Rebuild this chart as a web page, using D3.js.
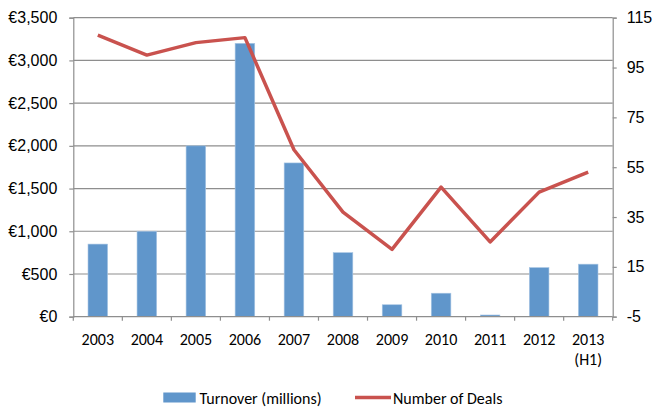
<!DOCTYPE html>
<html>
<head>
<meta charset="utf-8">
<script src="https://cdn.jsdelivr.net/npm/d3@7"></script>
<style>
  html, body { margin: 0; padding: 0; background: #fff; }
  svg { display: block; font-family: Carlito, Lato, "Open Sans", sans-serif; }
  text { fill: #000; }
</style>
</head>
<body>
<svg id="chart" width="654" height="408"></svg>
<script>
// Yearly market data
const categories = ["2003", "2004", "2005", "2006", "2007", "2008", "2009", "2010", "2011", "2012", "2013\n(H1)"];
const turnover = [850, 1000, 2000, 3200, 1800, 750, 140, 275, 20, 575, 615];
const deals = [108, 100, 105, 107, 62, 37, 22, 47, 25, 45, 53];
const leftTicks = [0, 500, 1000, 1500, 2000, 2500, 3000, 3500];
const rightTicks = [-5, 15, 35, 55, 75, 95, 115];
const seriesNames = ["Turnover (millions)", "Number of Deals"];

const W = 654, H = 408;
const margin = { top: 17.7, right: 41.3, bottom: 91.3, left: 73.3 };
const iw = W - margin.left - margin.right;
const ih = H - margin.top - margin.bottom;

const barColor = "#6096CB";
const lineColor = "#C9524E";
const gridColor = "#8E8E8E";
const fontSize = 16;

const svg = d3.select("#chart");
const g = svg.append("g").attr("transform", `translate(${margin.left},${margin.top})`);

const x = d3.scaleBand().domain(categories).range([0, iw]).padding(0);
const yL = d3.scaleLinear().domain([0, 3500]).range([ih, 0]);
const yR = d3.scaleLinear().domain([-5, 115]).range([ih, 0]);

// horizontal gridlines from the left axis
g.append("g").selectAll("line").data(leftTicks.filter(d => d > 0)).join("line")
  .attr("x1", 0).attr("x2", iw)
  .attr("y1", d => yL(d)).attr("y2", d => yL(d))
  .attr("stroke", gridColor).attr("stroke-width", 1.2);

// left axis
const leftAxis = g.append("g")
  .call(d3.axisLeft(yL).tickValues(leftTicks).tickSize(4).tickPadding(12)
    .tickFormat(d => "€" + d3.format(",")(d)));
leftAxis.select(".domain").attr("stroke", gridColor).attr("stroke-width", 1.2);
leftAxis.selectAll(".tick line").attr("stroke", gridColor).attr("stroke-width", 1.2);
leftAxis.selectAll("text").attr("font-size", fontSize).attr("fill", "#000");

// right axis
const rightAxis = g.append("g").attr("transform", `translate(${iw},0)`)
  .call(d3.axisRight(yR).tickValues(rightTicks).tickSize(4).tickPadding(10)
    .tickFormat(d => String(d)));
rightAxis.select(".domain").attr("stroke", gridColor).attr("stroke-width", 1.2);
rightAxis.selectAll(".tick line").attr("stroke", gridColor).attr("stroke-width", 1.2);
rightAxis.selectAll("text").attr("font-size", fontSize).attr("fill", "#000");

// bars
const barW = x.bandwidth() * 0.4;
g.append("g").selectAll("rect").data(categories).join("rect")
  .attr("x", (d) => x(d) + (x.bandwidth() - barW) / 2)
  .attr("width", barW)
  .attr("y", (d, i) => yL(turnover[i]))
  .attr("height", (d, i) => ih - yL(turnover[i]))
  .attr("fill", barColor)
  .attr("stroke", "#A9C6E4").attr("stroke-width", 0.6);

// bottom axis with ticks at category boundaries
const bottom = g.append("g").attr("transform", `translate(0,${ih})`);
bottom.append("line").attr("x1", 0).attr("x2", iw).attr("y1", 0).attr("y2", 0)
  .attr("stroke", gridColor).attr("stroke-width", 1.2);
const bounds = categories.map(c => x(c)).concat([iw]);
bottom.selectAll("line.tk").data(bounds).join("line").attr("class", "tk")
  .attr("x1", d => d).attr("x2", d => d).attr("y1", 0).attr("y2", 4)
  .attr("stroke", gridColor).attr("stroke-width", 1.2);
const labels = bottom.selectAll("text.cat").data(categories).join("text").attr("class", "cat")
  .attr("text-anchor", "middle").attr("font-size", fontSize)
  .attr("transform", d => `translate(${x(d) + x.bandwidth() / 2},28.3)`);
labels.each(function (d) {
  const t = d3.select(this);
  d.split("\n").forEach((part, k) => {
    t.append("tspan").attr("x", 0).attr("y", k * 20).text(part);
  });
});

// deals line
const line = d3.line()
  .x((d, i) => x(categories[i]) + x.bandwidth() / 2)
  .y(d => yR(d));
g.append("path").datum(deals).attr("d", line)
  .attr("fill", "none").attr("stroke", lineColor).attr("stroke-width", 3.5)
  .attr("stroke-linejoin", "round");

// legend
const lg = svg.append("g");
lg.append("rect").attr("x", 163.3).attr("y", 392.5).attr("width", 32.4).attr("height", 10)
  .attr("fill", barColor);
lg.append("text").attr("x", 199.5).attr("y", 404).attr("font-size", fontSize).text(seriesNames[0]);
lg.append("line").attr("x1", 355).attr("x2", 391).attr("y1", 397.5).attr("y2", 397.5)
  .attr("stroke", lineColor).attr("stroke-width", 3.5);
lg.append("text").attr("x", 393).attr("y", 404).attr("font-size", fontSize).text(seriesNames[1]);
</script>
</body>
</html>
